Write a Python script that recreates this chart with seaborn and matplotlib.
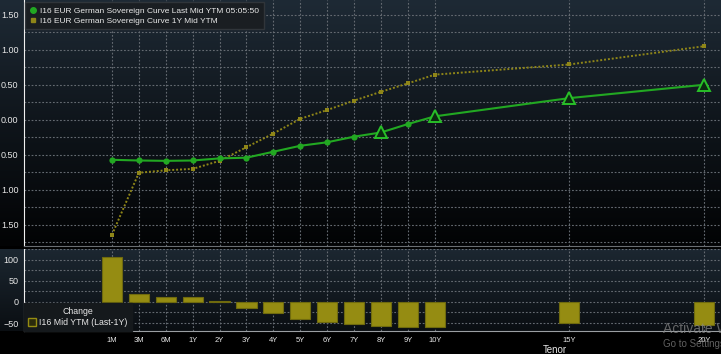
import numpy as np
import pandas as pd
import matplotlib
matplotlib.use("Agg")
import matplotlib.pyplot as plt
import seaborn as sns
from matplotlib.ticker import FuncFormatter, MultipleLocator, FixedLocator
from matplotlib.lines import Line2D
from matplotlib.patches import Patch
from matplotlib.colors import LinearSegmentedColormap

# values
tenors = ["1M", "3M", "6M", "1Y", "2Y", "3Y", "4Y", "5Y", "6Y", "7Y", "8Y", "9Y", "10Y", "15Y", "20Y"]
last_ytm = [-0.57, -0.58, -0.585, -0.58, -0.55, -0.54, -0.455, -0.37, -0.32, -0.24, -0.18, -0.06, 0.05, 0.31, 0.50]
year_ago_ytm = [-1.64, -0.755, -0.72, -0.70, -0.585, -0.39, -0.195, 0.015, 0.14, 0.275, 0.40, 0.52, 0.645, 0.79, 1.05]
change_bp = [107, 18, 13, 12, 3, -14, -27, -40, -47, -52, -57, -59, -60, -49, -55]
benchmarks = ["8Y", "10Y", "15Y", "20Y"]

legend_last = "I16 EUR German Sovereign Curve Last Mid YTM 05:05:50"
legend_prev = "I16 EUR German Sovereign Curve 1Y Mid YTM"
legend_chg_title = "Change"
legend_chg = "I16 Mid YTM (Last-1Y)"

GREEN = "#22a822"
GOLD = "#8f8618"
BAR = "#958c12"
GRID = "#646a71"
TXT = "#e8e8e8"


def tenor_pos(t):
    # months are spaced one slot apart, years sit on a linear scale after them
    if t.endswith("M"):
        return ["1M", "3M", "6M"].index(t)
    return int(t[:-1]) + 2


df = pd.DataFrame({"tenor": tenors, "last": last_ytm, "prev": year_ago_ytm, "chg": change_bp})
df["pos"] = df["tenor"].map(tenor_pos)

sns.set_style("dark")
plt.rcParams["font.family"] = ["Liberation Sans", "DejaVu Sans"]

fig = plt.figure(figsize=(7.21, 3.54), dpi=100)
fig.patch.set_facecolor("#000000")

# background gradients behind both panels
grad = np.linspace(0, 1, 256).reshape(-1, 1)
bg = fig.add_axes([0, 108 / 354, 1, 246 / 354], zorder=-10)
bg.imshow(grad, aspect="auto", extent=[0, 1, 0, 1],
          cmap=LinearSegmentedColormap.from_list("top", ["#1e2a35", "#0f151b", "#020304"]))
bg.axis("off")
lower_bg = fig.add_axes([0, 23 / 354, 1, 82 / 354], zorder=-10)
lower_bg.imshow(grad, aspect="auto", extent=[0, 1, 0, 1],
                cmap=LinearSegmentedColormap.from_list("bot", ["#1c2731", "#0a0e12"]))
lower_bg.axis("off")

ax = fig.add_axes([24 / 721, 108 / 354, 697 / 721, 246 / 354])
axb = fig.add_axes([24 / 721, 23 / 354, 697 / 721, 82 / 354])
xlim = (-3.27, 22.64)

for a in (ax, axb):
    a.set_facecolor("none")
    a.set_xlim(*xlim)
    for s in ("top", "right"):
        a.spines[s].set_visible(False)
    a.spines["left"].set_color("#f0f0f0")
    a.spines["bottom"].set_color("#6a6e72")
    a.xaxis.set_major_locator(FixedLocator(df["pos"].tolist()))
    a.grid(True, which="both", color=GRID, linestyle=(0, (1.6, 1.6)), linewidth=0.8)
    a.set_axisbelow(True)
    a.tick_params(colors=TXT, labelsize=6.5, length=3, width=0.8, pad=1)
    a.tick_params(which="minor", length=1.5, color=TXT)

# upper panel: the two yield curves
sns.lineplot(data=df, x="pos", y="prev", ax=ax, color=GOLD, linestyle=(0, (1, 1)), linewidth=1.4,
             marker="s", markersize=3.5, markeredgewidth=0)
sns.lineplot(data=df, x="pos", y="last", ax=ax, color=GREEN, linewidth=1.5,
             marker="o", markersize=4.5, markeredgewidth=0)
bench = df[df["tenor"].isin(benchmarks)]
ax.plot(bench["pos"], bench["last"], linestyle="none", marker="^", markersize=8,
        markerfacecolor="#0c2a10", markeredgecolor="#28c028", markeredgewidth=1.4)

ax.set_xlim(*xlim)
ax.set_ylim(-1.8, 1.71)
ax.yaxis.set_major_locator(MultipleLocator(0.5))
ax.yaxis.set_minor_locator(MultipleLocator(0.25))
ax.yaxis.set_major_formatter(FuncFormatter(lambda v, p: f"{abs(v):.2f}"))
ax.tick_params(axis="x", labelbottom=False, length=0)
ax.set_xlabel("")
ax.set_ylabel("")

handles = [Line2D([], [], color=GREEN, marker="o", linestyle="none", markersize=4),
           Line2D([], [], color=GOLD, marker="s", linestyle="none", markersize=3.5)]
leg = ax.legend(handles, [legend_last, legend_prev], loc="upper left", bbox_to_anchor=(0.002, 0.99),
                borderaxespad=0, fontsize=6, frameon=True, facecolor="#1a1e22", edgecolor="#30353a",
                framealpha=1, handlelength=0.8, handletextpad=0.4, borderpad=0.55, labelspacing=0.25,
                fancybox=False)
for t in leg.get_texts():
    t.set_color(TXT)

# lower panel: change in bp
sns.barplot(data=df, x="pos", y="chg", ax=axb, native_scale=True, color=BAR, saturation=1,
            width=0.75, errorbar=None, linewidth=0.8, edgecolor="#6f6a0e", zorder=2)
axb.set_xlim(*xlim)
axb.set_ylim(-69, 126)
axb.yaxis.set_major_locator(MultipleLocator(50))
axb.yaxis.set_minor_locator(MultipleLocator(25))
axb.xaxis.set_major_locator(FixedLocator(df["pos"].tolist()))
axb.set_xticklabels(tenors)
axb.tick_params(axis="x", labelsize=5.5, length=3, pad=1.5)
axb.set_xlabel("")
axb.set_ylabel("")
axb.spines["bottom"].set_color("#9a9ea2")

leg2 = axb.legend([Patch(facecolor="#2a2a0c", edgecolor=BAR, linewidth=1)], [legend_chg],
                  title=legend_chg_title, loc="lower left", bbox_to_anchor=(0.0, 0.0), borderaxespad=0,
                  fontsize=6.3, title_fontsize=6.3, frameon=True, facecolor="#15191c",
                  edgecolor="#15191c", framealpha=1, fancybox=False, handlelength=0.9,
                  handleheight=0.9, handletextpad=0.4, borderpad=0.45, labelspacing=0.2)
leg2.get_title().set_color(TXT)
for t in leg2.get_texts():
    t.set_color(TXT)

fig.text(555 / 721, 1 - 350 / 354, "Tenor", ha="center", va="center", fontsize=7, color=TXT)

# windows activation watermark seen on the screenshot
fig.text(663 / 721, 1 - 329 / 354, "Activate W", ha="left", va="center", fontsize=10, color="#8a8a8a", alpha=0.7)
fig.text(663 / 721, 1 - 344 / 354, "Go to Settings", ha="left", va="center", fontsize=7, color="#8a8a8a", alpha=0.7)

fig.savefig("out.png", dpi=100, facecolor=fig.get_facecolor())
